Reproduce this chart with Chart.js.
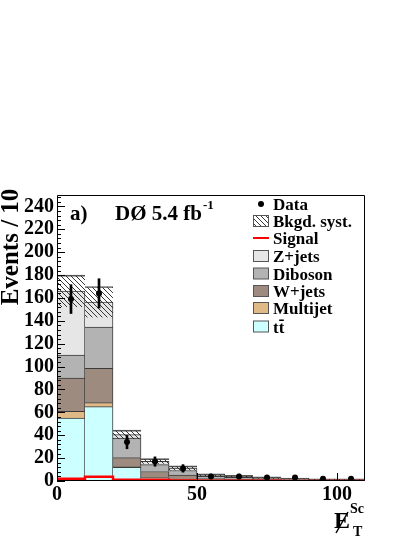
<!DOCTYPE html>
<html>
<head>
<meta charset="utf-8">
<script src="https://cdn.jsdelivr.net/npm/chart.js@4"></script>
<style>
  html, body { margin: 0; padding: 0; background: #fff; }
  canvas { display: block; }
</style>
</head>
<body>
<canvas id="metSc" width="415" height="537"></canvas>
<script>
// bins of missing ET significance, width 10
const binEdges = [0, 10, 20, 30, 40, 50, 60, 70, 80, 90, 100, 110];
const binCenters = [5, 15, 25, 35, 45, 55, 65, 75, 85, 95, 105];

// stacked backgrounds (bottom to top)
const ttbar = [55, 65, 12, 3, 1, 0.5, 0.3, 0.2, 0.1, 0.1, 0.1];
const multijet = [6, 3.5, 0.5, 0.3, 0.2, 0.1, 0.1, 0, 0, 0, 0];
const wjets = [29, 30, 8, 5, 4, 1.5, 1.2, 1, 0.7, 0.5, 0.5];
const diboson = [20, 36, 17, 6, 4, 2, 1.5, 1, 0.8, 0.5, 0.4];
const zjets = [56, 22, 3, 3, 2, 1, 0.8, 0.6, 0.4, 0.3, 0.3];

const bkgSyst = [14, 13.5, 4, 2.3, 2, 1.2, 1, 0.8, 0.6, 0.5, 0.5];
const signal = [2, 3.7, 1, 1, 0.5, 0.3, 0.2, 0.2, 0.1, 0.1, 0.1];

const dataCounts = [159, 164, 34, 17, 11, 4, 4, 3, 3, 2, 2];
const dataErr = [12.6, 12.8, 5.8, 4.1, 3.3, 2, 2, 1.7, 1.7, 1.4, 1.4];

const xTicks = [0, 50, 100];
const yTicks = [0, 20, 40, 60, 80, 100, 120, 140, 160, 180, 200, 220, 240];

const legendNames = ["Data", "Bkgd. syst.", "Signal", "Z+jets", "Diboson", "W+jets", "Multijet", "tt"];

const colTtbar = "#ccffff";
const colMultijet = "#dfba86";
const colWjets = "#9c8b7e";
const colDiboson = "#b3b3b3";
const colZjets = "#e6e6e6";
const outline = "#3a3a3a";
const serif = '"Liberation Serif", "Times New Roman", serif';

// hatch pattern for the syst. band
const pc = document.createElement("canvas");
pc.width = 5;
pc.height = 5;
const pctx = pc.getContext("2d");
pctx.strokeStyle = "#222";
pctx.lineWidth = 0.9;
pctx.beginPath();
pctx.moveTo(-1, -1); pctx.lineTo(6, 6);
pctx.moveTo(-1, 4); pctx.lineTo(1, 6);
pctx.moveTo(4, -1); pctx.lineTo(6, 1);
pctx.stroke();
const ctx = document.getElementById("metSc").getContext("2d");
const hatch = ctx.createPattern(pc, "repeat");

const pts = (xs, ys) => xs.map((x, i) => ({ x: x, y: ys[i] }));

let totals = binCenters.map((c, i) => ttbar[i] + multijet[i] + wjets[i] + diboson[i] + zjets[i]);

let signalSteps = [{ x: 0, y: 0 }];
signal.forEach((v, i) => signalSteps.push({ x: binEdges[i], y: v }));
signalSteps.push({ x: 110, y: signal[signal.length - 1] });
signalSteps.push({ x: 110, y: 0 });

const stackBar = (label, vals, color) => ({
  type: "bar",
  label: label,
  data: pts(binCenters, vals),
  backgroundColor: color,
  borderColor: outline,
  borderWidth: { top: 1, right: 1, left: 0, bottom: 0 },
  yAxisID: "y",
});

const rootStyle = {
  id: "rootStyle",
  afterDatasetsDraw(chart) {
    const { ctx, chartArea: a, scales } = chart;
    const y = scales.y;
    const x = scales.x;
    ctx.save();
    ctx.strokeStyle = "#000";
    ctx.lineWidth = 1;
    ctx.beginPath();
    ctx.moveTo(a.left + 0.5, a.top + 0.5);
    ctx.lineTo(a.right - 0.5, a.top + 0.5);
    ctx.lineTo(a.right - 0.5, a.bottom - 0.5);
    ctx.lineTo(a.left + 0.5, a.bottom - 0.5);
    ctx.closePath();
    // inward ticks
    for (let v = 0; v < 250; v += 4) {
      const py = Math.round(y.getPixelForValue(v)) + 0.5;
      const len = v % 20 === 0 ? 8 : 4;
      ctx.moveTo(a.left, py);
      ctx.lineTo(a.left + len, py);
    }
    xTicks.forEach((v) => {
      const px = Math.round(x.getPixelForValue(v)) + 0.5;
      ctx.moveTo(px, a.bottom);
      ctx.lineTo(px, a.bottom - 8);
    });
    ctx.stroke();
    ctx.restore();
  },
  afterDraw(chart) {
    const { ctx } = chart;
    ctx.save();
    ctx.fillStyle = "#000";
    ctx.textBaseline = "alphabetic";

    // label
    ctx.font = "bold 21px " + serif;
    ctx.fillText("a)", 70, 220);
    ctx.fillText("DØ 5.4 fb", 115, 220);
    const w = ctx.measureText("DØ 5.4 fb").width;
    ctx.font = "bold 13px " + serif;
    ctx.fillText("-1", 115 + w + 1, 209);

    // legend
    const rows = [204, 221, 238, 256, 273.5, 291, 308, 326.5];
    const boxes = [null, hatch, null, colZjets, colDiboson, colWjets, colMultijet, colTtbar];
    ctx.font = "bold 17px " + serif;
    legendNames.forEach((name, i) => {
      const cy = rows[i];
      if (i === 0) {
        ctx.beginPath();
        ctx.arc(261, cy, 3, 0, Math.PI * 2);
        ctx.fill();
      } else if (i === 2) {
        ctx.strokeStyle = "#ff0000";
        ctx.lineWidth = 2;
        ctx.beginPath();
        ctx.moveTo(253, cy);
        ctx.lineTo(269, cy);
        ctx.stroke();
      } else {
        ctx.fillStyle = boxes[i];
        ctx.fillRect(253, cy - 5.5, 16, 11);
        ctx.strokeStyle = "#555";
        ctx.lineWidth = 1;
        ctx.strokeRect(253.5, cy - 5.5, 15, 11);
        ctx.fillStyle = "#000";
      }
      ctx.fillText(name, 273, cy + 6);
    });
    // bar over second t
    const tW = ctx.measureText("t").width;
    ctx.fillRect(273 + tW + 0.5, rows[7] - 7, tW - 1, 1.5);

    // y title
    ctx.save();
    ctx.translate(18, 247);
    ctx.rotate(-Math.PI / 2);
    ctx.font = "bold 25px " + serif;
    ctx.textAlign = "center";
    ctx.fillText("Events / 10", 0, 0);
    ctx.restore();

    // x title: missing ET significance
    ctx.font = "bold 24px " + serif;
    ctx.fillText("E", 334, 528);
    ctx.strokeStyle = "#000";
    ctx.lineWidth = 1.5;
    ctx.beginPath();
    ctx.moveTo(336, 533);
    ctx.lineTo(348, 512);
    ctx.stroke();
    ctx.font = "bold 14px " + serif;
    ctx.fillText("T", 353, 536);
    ctx.fillText("Sc", 350, 513);
    ctx.restore();
  },
};

new Chart(ctx, {
  type: "bar",
  data: {
    datasets: [
      {
        type: "line",
        label: "Data",
        data: pts(binCenters, dataCounts),
        showLine: false,
        pointRadius: 3,
        pointBackgroundColor: "#000",
        pointBorderWidth: 0,
        yAxisID: "y2",
      },
      {
        type: "bar",
        label: "Data err",
        data: binCenters.map((c, i) => ({ x: c, y: [dataCounts[i] - dataErr[i], dataCounts[i] + dataErr[i]] })),
        backgroundColor: "#000",
        borderWidth: 0,
        maxBarThickness: 2,
        yAxisID: "y2",
      },
      {
        type: "line",
        label: "Signal",
        data: signalSteps,
        stepped: true,
        borderColor: "#ff0000",
        borderWidth: 2.5,
        pointRadius: 0,
        fill: false,
        yAxisID: "y2",
      },
      {
        type: "bar",
        label: "Bkgd. syst.",
        data: binCenters.map((c, i) => ({ x: c, y: [totals[i] - bkgSyst[i], totals[i] + bkgSyst[i]] })),
        backgroundColor: hatch,
        borderColor: "#555",
        borderWidth: { top: 1, right: 0, left: 0, bottom: 0 },
        yAxisID: "y2",
      },
      stackBar("tt", ttbar, colTtbar),
      stackBar("Multijet", multijet, colMultijet),
      stackBar("W+jets", wjets, colWjets),
      stackBar("Diboson", diboson, colDiboson),
      stackBar("Z+jets", zjets, colZjets),
    ],
  },
  options: {
    responsive: false,
    animation: false,
    devicePixelRatio: 1,
    events: [],
    layout: { padding: { top: 195, right: 50, left: 0, bottom: 0 } },
    datasets: {
      bar: { grouped: false, categoryPercentage: 1, barPercentage: 1 },
    },
    plugins: {
      legend: { display: false },
      tooltip: { enabled: false },
    },
    scales: {
      x: {
        type: "linear",
        min: 0,
        max: 110,
        offset: false,
        grid: { display: false, drawTicks: false },
        border: { display: false },
        ticks: {
          stepSize: 50,
          includeBounds: false,
          autoSkip: false,
          maxRotation: 0,
          padding: 2,
          color: "#000",
          font: { family: "Liberation Serif", weight: "bold", size: 20 },
        },
        afterFit: (scale) => {
          scale.height = 56;
        },
      },
      y: {
        stacked: true,
        min: 0,
        max: 250,
        grid: { display: false, drawTicks: false },
        border: { display: false },
        afterBuildTicks: (scale) => {
          scale.ticks = yTicks.map((v) => ({ value: v }));
        },
        ticks: {
          autoSkip: false,
          padding: 3,
          color: "#000",
          font: { family: "Liberation Serif", weight: "bold", size: 20 },
        },
        afterFit: (scale) => {
          scale.width = 57;
        },
      },
      y2: {
        display: false,
        stacked: false,
        min: 0,
        max: 250,
      },
    },
  },
  plugins: [rootStyle],
});
</script>
</body>
</html>
